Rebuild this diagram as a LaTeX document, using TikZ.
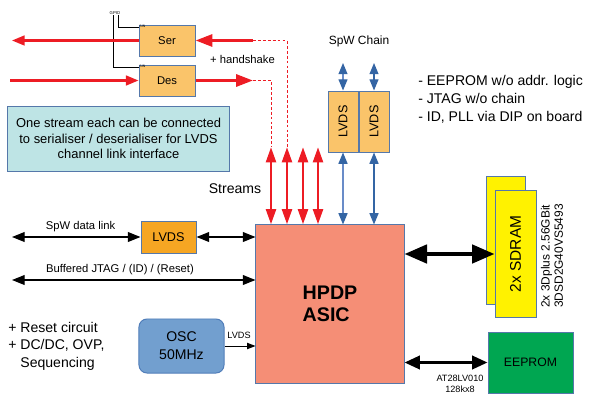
\documentclass[tikz,border=0pt]{standalone}
\usepackage{fontspec}
\setmainfont{Liberation Sans}
\usepackage{xcolor}
\usepackage{tikz}
\usetikzlibrary{arrows.meta}

\definecolor{bordc}{RGB}{85,120,170}
\definecolor{lorange}{RGB}{250,196,106}
\definecolor{dorange}{RGB}{246,166,35}
\definecolor{infoc}{RGB}{190,228,229}
\definecolor{asicc}{RGB}{245,142,118}
\definecolor{eepc}{RGB}{0,166,81}
\definecolor{oscc}{RGB}{114,159,207}
\definecolor{oscb}{RGB}{80,125,185}
\definecolor{myred}{RGB}{237,28,36}
\definecolor{blue1}{RGB}{105,140,200}
\definecolor{blue2}{RGB}{52,101,164}

\begin{document}
\begin{tikzpicture}[x=0.025cm,y=-0.025cm,
box/.style={draw=bordc,line width=0.7pt,inner sep=0pt,align=center},
sbox/.style={box,fill=lorange,minimum width=1.4cm,minimum height=0.775cm,font=\fontsize{8}{10}\selectfont},
redfat/.style={draw=myred,line width=2.2pt,-{Triangle[length=12pt,width=8.5pt]}},
redthin/.style={draw=myred,line width=1.5pt,-{Triangle[length=9pt,width=7pt]}},
stream/.style={draw=myred,line width=2.1pt,{Triangle[length=11pt,width=7pt]}-{Triangle[length=11pt,width=7pt]}},
hand/.style={draw=myred,line width=0.6pt,dash pattern=on 2pt off 1.5pt},
spw/.style={draw=#1,line width=0.9pt,{Triangle[length=8pt,width=6.4pt,color=blue2]}-{Triangle[length=8pt,width=6.4pt,color=blue2]}},
link/.style={line width=0.8pt,{Triangle[length=9pt,width=7pt]}-{Triangle[length=9pt,width=7pt]}},
bigbus/.style={line width=2.8pt,{Triangle[length=16pt,width=13pt]}-{Triangle[length=16pt,width=13pt]}},
midbus/.style={line width=2.1pt,{Triangle[length=11pt,width=9.5pt]}-{Triangle[length=11pt,width=9.5pt]}},
oscarr/.style={line width=0.7pt,-{Triangle[length=6pt,width=4.5pt]}},
tiny/.style={font=\fontsize{#1}{#1}\selectfont,inner sep=0.5pt}]
\useasboundingbox(0,0)rectangle(590,394);
\node[sbox](ser)at(167,40.5){Ser};
\node[sbox](des)at(167,80.5){Des};
\node[tiny=3](gpio)at(115,13){GPIO};
\node[tiny=2.5,anchor=north west](sinser)at(ser.north west){SIN};
\node[tiny=2.5,anchor=north west](sindes)at(des.north west){SIN};
\draw[line width=0.5pt](gpio.south)++(-2,0)|-([yshift=-0.075cm]des.north west);
\draw[line width=0.5pt](gpio.south)++(3,0)|-([yshift=-0.075cm]ser.north west);
\coordinate(serend)at(12,40.5);
\coordinate(serin)at(253,40.5);
\coordinate(desend)at(10,80.5);
\coordinate(desout)at(253,80.5);
\draw[redthin](ser.west)--(serend);
\draw[redfat](serin)--(ser.east);
\draw[redthin](desend)--(des.west);
\draw[redfat](des.east)--(desout);
\node[font=\fontsize{8}{10}\selectfont](hs)at(242.5,59){+ handshake};
\node[box,fill=infoc,minimum width=5.525cm,minimum height=1.625cm,font=\fontsize{9.2}{11}\selectfont](info)at(118.5,138.5){One stream each can be connected\\to serialiser / deserialiser for LVDS\\channel link interface};
\node[box,fill=asicc,minimum width=3.7cm,minimum height=3.95cm,align=left,font=\bfseries\fontsize{14}{16}\selectfont](asic)at(330,304){HPDP\\ASIC};
\node[font=\fontsize{10}{12}\selectfont](streams)at(235,189){Streams};
\coordinate(st1)at(271,147);
\coordinate(st2)at(287,147);
\coordinate(st3)at(303,147);
\coordinate(st4)at(318,147);
\foreach \i in {1,...,4}\draw[stream](st\i)--(st\i|-asic.north);
\draw[hand](serin)-|(st2);
\draw[hand](desout)-|(st1);
\node[box,fill=lorange,minimum width=0.75cm,minimum height=1.525cm,label={[rotate=90,font=\fontsize{9}{10}\selectfont]center:LVDS}](lvdsa)at(343,121.5){};
\node[box,fill=lorange,minimum width=0.75cm,minimum height=1.525cm,label={[rotate=90,font=\fontsize{9}{10}\selectfont]center:LVDS}](lvdsb)at(374,121.5){};
\node[font=\fontsize{8.5}{10}\selectfont](chain)at(359,41){SpW Chain};
\coordinate(ch1)at(343,63);
\coordinate(ch2)at(374,63);
\draw[spw=blue1](ch1)--(lvdsa.north);
\draw[spw=blue1](lvdsa.south)--(lvdsa.south|-asic.north);
\draw[spw=blue2](ch2)--(lvdsb.north);
\draw[spw=blue2](lvdsb.south)--(lvdsb.south|-asic.north);
\node[anchor=west,align=left,inner sep=0pt,font=\fontsize{10}{12.8}\selectfont](notes)at(418,99){- EEPROM w/o addr. logic\\- JTAG w/o chain\\- ID, PLL via DIP on board};
\node[box,fill=dorange,minimum width=1.375cm,minimum height=0.8cm,font=\fontsize{9}{10}\selectfont](lvds)at(168.5,237){LVDS};
\coordinate(spwend)at(12,237);
\coordinate(jtagend)at(12,280);
\draw[link](spwend)--(lvds.west);
\draw[link](lvds.east)--(lvds.east-|asic.west);
\draw[link](jtagend)--(jtagend-|asic.west);
\node[font=\fontsize{8}{10}\selectfont](spwlbl)at(80.5,227){SpW data link};
\node[font=\fontsize{8}{10}\selectfont](jtaglbl)at(120,270){Buffered JTAG / (ID) / (Reset)};
\node[anchor=west,align=left,inner sep=0pt,font=\fontsize{10}{12.4}\selectfont](power)at(8,346){+ Reset circuit\\+ DC/DC, OVP,\\\phantom{+ }Sequencing};
\node[box,draw=oscb,fill=oscc,rounded corners=0.2cm,minimum width=2.125cm,minimum height=1.35cm,font=\fontsize{10}{13}\selectfont](osc)at(181.5,346){OSC\\50MHz};
\draw[oscarr](osc.east)--(osc.east-|asic.west);
\node[font=\fontsize{6.5}{7}\selectfont](osclvds)at(239,335){LVDS};
\node[box,fill=yellow,minimum width=0.975cm,minimum height=3.175cm](sdramb)at(505.5,240.5){};
\node[box,fill=yellow,minimum width=1.025cm,minimum height=3.15cm,label={[rotate=90,font=\fontsize{11}{13}\selectfont]center:2x SDRAM}](sdram)at(515.5,254){};
\node[rotate=90,align=left,font=\fontsize{8.5}{9.5}\selectfont](sdraminfo)at(552,256){2x 3Dplus 2.56GBit\\3DSD2G40VS5493};
\draw[bigbus](asic.east|-sdram.west)--(sdram.west);
\node[box,fill=eepc,minimum width=2.125cm,minimum height=1.525cm,font=\fontsize{8.7}{10}\selectfont](eeprom)at(530.5,362.5){EEPROM};
\draw[midbus](eeprom.west-|asic.east)--(eeprom.west);
\node[align=center,font=\fontsize{6.5}{7.8}\selectfont](eeptype)at(460,383.5){AT28LV010\\128kx8};
\end{tikzpicture}
\end{document}
